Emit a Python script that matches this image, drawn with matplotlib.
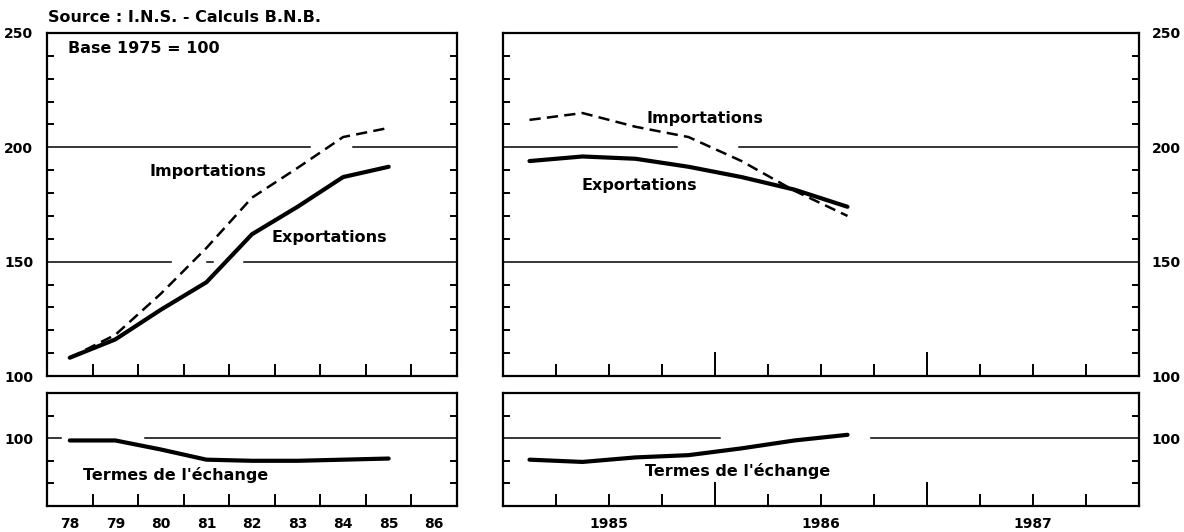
import matplotlib
matplotlib.use('Agg')
import matplotlib.pyplot as plt
import numpy as np
from matplotlib.ticker import FuncFormatter

# ---------------- data (base 1975 = 100) ----------------
# annual values, left panels
years = [78, 79, 80, 81, 82, 83, 84, 85]
exports_y = [108, 116, 129, 141, 162, 174, 187, 191.5]
imports_y = [108, 118, 136, 156, 178, 191, 204.5, 208.5]
terms_y = [99, 99, 95, 90.5, 90, 90, 90.5, 91]
year_labels = ['78', '79', '80', '81', '82', '83', '84', '85', '86']

# quarterly values, right panels (plotted at quarter centres)
quarters = [1985.125, 1985.375, 1985.625, 1985.875, 1986.125, 1986.375, 1986.625]
exports_q = [194, 196, 195, 191.5, 187, 181.5, 174]
imports_q = [212, 215, 209, 204.5, 194, 181, 170]
terms_q = [90.5, 89.5, 91.5, 92.5, 95.5, 99, 101.5]
q_year_labels = ['1985', '1986', '1987']

plt.rcParams['font.family'] = 'DejaVu Sans'

fig = plt.figure(figsize=(11.84, 5.32), dpi=100)

W, H = 1184., 532.
def box(x0, y0, x1, y1):
    # pixel box -> figure fraction
    return [x0 / W, 1 - y1 / H, (x1 - x0) / W, (y1 - y0) / H]

ax_lt = fig.add_axes(box(47, 33, 457, 376))
ax_lb = fig.add_axes(box(47, 393, 457, 506))
ax_rt = fig.add_axes(box(503, 33, 1139, 376))
ax_rb = fig.add_axes(box(503, 393, 1139, 506))

for ax in (ax_lt, ax_lb, ax_rt, ax_rb):
    for s in ax.spines.values():
        s.set_linewidth(1.6)
    ax.tick_params(which='both', direction='in', width=1.4, color='black')

LBL = 10

# ----- y axes -----
for ax in (ax_lt, ax_rt):
    ax.set_ylim(100, 250)
    ax.set_yticks([100, 150, 200, 250])
    ax.set_yticks([v for v in range(110, 250, 10) if v not in (150, 200)], minor=True)
for ax in (ax_lb, ax_rb):
    ax.set_ylim(70, 120)
    ax.set_yticks([100])
    ax.set_yticks([80, 90, 110], minor=True)

for ax in (ax_lt, ax_lb):
    ax.tick_params(axis='y', which='major', length=0, pad=10, labelleft=True, labelright=False)
for ax in (ax_rt, ax_rb):
    ax.tick_params(axis='y', which='major', length=0, pad=9, labelleft=False, labelright=True)
for ax in (ax_lt, ax_lb, ax_rt, ax_rb):
    ax.tick_params(axis='y', which='minor', length=5, left=True, right=True)
    for t in ax.get_yticklabels():
        t.set_fontsize(LBL); t.set_fontweight('bold')

# ----- x axes, annual -----
for ax in (ax_lt, ax_lb):
    ax.set_xlim(77.5, 86.5)
    ax.set_xticks(range(78, 87))
    ax.set_xticks(np.arange(78.5, 86, 1), minor=True)
    ax.tick_params(axis='x', which='major', length=0)
    ax.tick_params(axis='x', which='minor', length=9)
ax_lt.set_xticklabels([])
ax_lb.set_xticklabels(year_labels, fontsize=LBL, fontweight='bold')
ax_lb.tick_params(axis='x', which='major', pad=8)

# ----- x axes, quarterly -----
def qfmt(v, pos):
    for i, y in enumerate(range(1985, 1988)):
        if abs(v - (y + 0.5)) < 1e-6:
            return q_year_labels[i]
    return ''

for ax in (ax_rt, ax_rb):
    ax.set_xlim(1985, 1988)
    ax.set_xticks([1986, 1987])
    ax.set_xticks([v for v in np.arange(1985.25, 1988, 0.25) if v not in (1986, 1987)], minor=True)
    ax.tick_params(axis='x', which='major', length=17, labelbottom=False)
    ax.tick_params(axis='x', which='minor', length=9)
ax_rt.tick_params(axis='x', which='minor', labelbottom=False)
ax_rb.xaxis.set_minor_formatter(FuncFormatter(qfmt))
ax_rb.tick_params(axis='x', which='minor', pad=8, labelsize=LBL)
for t in ax_rb.get_xticklabels(minor=True):
    t.set_fontweight('bold')

# ----- reference lines (broken where the curves cross them) -----
g = dict(color='black', lw=1.1, zorder=1)
ax_lt.axhline(200, 0, 0.641, **g)
ax_lt.axhline(200, 0.746, 1, **g)
ax_lt.axhline(150, 0, 0.302, **g)
ax_lt.axhline(150, 0.39, 0.405, **g)
ax_lt.axhline(150, 0.48, 1, **g)
ax_rt.axhline(200, 0, 0.274, **g)
ax_rt.axhline(200, 0.371, 1, **g)
ax_rt.axhline(150, 0, 1, **g)
ax_lb.axhline(100, 0, 0.034, **g)
ax_lb.axhline(100, 0.239, 1, **g)
ax_rb.axhline(100, 0, 0.341, **g)
ax_rb.axhline(100, 0.579, 1, **g)

# ----- curves -----
solid = dict(color='black', lw=3.0, solid_capstyle='round', solid_joinstyle='round', zorder=3)
dashed = dict(color='black', lw=1.8, dashes=(4.5, 2.5), zorder=3)

ax_lt.plot(years, imports_y, **dashed)
ax_lt.plot(years, exports_y, **solid)
ax_lb.plot(years, terms_y, **solid)
ax_rt.plot(quarters, imports_q, **dashed)
ax_rt.plot(quarters, exports_q, **solid)
ax_rb.plot(quarters, terms_q, **solid)

# ----- labels -----
txt = dict(fontsize=11.5, fontweight='bold', color='black', va='center', ha='left')
ax_lt.text(79.75, 189.5, 'Importations', **txt)
ax_lt.text(82.42, 160.5, 'Exportations', **txt)
ax_rt.text(1985.675, 212.5, 'Importations', **txt)
ax_rt.text(1985.37, 183.5, 'Exportations', **txt)
ax_lb.text(78.3, 83.5, "Termes de l'échange", **txt)
ax_rb.text(1985.67, 85.5, "Termes de l'échange", **txt)

ax_lt.text(0.051, 0.955, 'Base 1975 = 100', transform=ax_lt.transAxes, **txt)
fig.text(48 / W, 1 - 18 / H, 'Source : I.N.S. - Calculs B.N.B.', **txt)

fig.savefig('out.png', dpi=100)
